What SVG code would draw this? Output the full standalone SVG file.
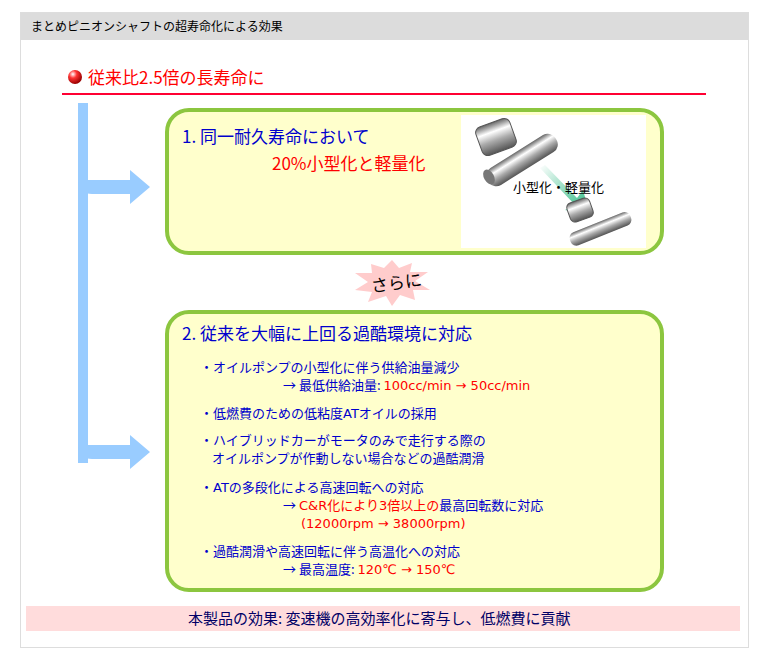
<svg xmlns="http://www.w3.org/2000/svg" width="757" height="660" viewBox="0 0 757 660">
<defs>
<style>
text{font-family:"Noto Sans CJK JP","Noto Sans",sans-serif}
.b{fill:#0000cc;font-size:13px}
.r{fill:#ff0000}
.l{font-family:"DejaVu Sans",sans-serif;font-size:13px}
.box{fill:#ffffcc;stroke:#8cc63f;stroke-width:4}
</style>
<linearGradient id="met" x1="0" y1="0" x2="0" y2="1"><stop offset="0" stop-color="#666"/><stop offset="0.3" stop-color="#fff"/><stop offset="0.6" stop-color="#aaa"/><stop offset="1" stop-color="#555"/></linearGradient>
<linearGradient id="ga" x1="0" y1="0" x2="1" y2="1"><stop offset="0" stop-color="#fff"/><stop offset="1" stop-color="#1fb57a"/></linearGradient>
<radialGradient id="ball" cx="0.35" cy="0.3" r="0.7"><stop offset="0" stop-color="#fff"/><stop offset="0.4" stop-color="#f33"/><stop offset="1" stop-color="#900"/></radialGradient>
</defs>
<rect x="0" y="0" width="757" height="660" fill="#fff"/>
<rect x="20.5" y="12.5" width="728" height="635" fill="#fff" stroke="#ddd"/>
<rect x="21" y="13" width="727" height="27" fill="#dcdcdc"/>
<text x="31" y="31" font-size="12" fill="#000">まとめピニオンシャフトの超寿命化による効果</text>
<g id="title">
<circle cx="75" cy="77" r="7" fill="url(#ball)"/>
<text x="88" y="84" font-size="17" fill="#ff0000">従来比2.5倍の長寿命に</text>
<line x1="62" y1="94" x2="706" y2="94" stroke="#ff0033" stroke-width="2"/>
</g>
<g id="connectors" fill="#99ccff">
<rect x="78" y="103" width="10" height="360"/>
<path d="M78 180 H130 V170 L150 187 L130 204 V194 H92 Q80 194 78 182 Z"/>
<path d="M78 445 H130 V435 L150 452 L130 469 V459 H92 Q80 459 78 447 Z"/>
</g>
<g id="box1">
<rect class="box" x="167" y="110" width="495" height="143" rx="22"/>
<rect x="461" y="115" width="185" height="133" fill="#fff"/>
<text x="182" y="143" font-size="17" fill="#0000cc">1. 同一耐久寿命において</text>
<text x="272" y="170" font-size="17" fill="#ff0000">20%小型化と軽量化</text>
<g id="photo">
<path d="M540 168 L575 205 L565 210 L590 215 L583 190 L577 198 L545 165 Z" fill="url(#ga)"/>
<rect x="478" y="122" width="36" height="30" rx="6" fill="url(#met)" transform="rotate(-20 496 137)" stroke="#555"/>
<rect x="482" y="150" width="80" height="20" rx="9" fill="url(#met)" transform="rotate(-32 522 160)"/>
<ellipse cx="489" cy="177" rx="5" ry="8" fill="#777" transform="rotate(-30 489 177)"/>
<rect x="568" y="200" width="24" height="20" rx="5" fill="url(#met)" transform="rotate(-20 580 210)" stroke="#555"/>
<rect x="568" y="222" width="65" height="14" rx="6" fill="url(#met)" transform="rotate(-22 600 229)"/>
<text x="513" y="192" font-size="13" fill="#000">小型化・軽量化</text>
</g>
</g>
<g id="sarani">
<polygon points="392,260 399,268 412,263 410,272 428,272 415,281 430,290 413,290 415,300 400,295 392,306 386,296 368,302 372,292 355,290 368,282 355,273 372,273 371,264 384,268" fill="#ffcccc"/>
<text x="371" y="290" font-size="17" fill="#000" transform="rotate(-8 390 284)">さらに</text>
</g>
<g id="box2">
<rect class="box" x="167" y="312" width="495" height="278" rx="22"/>
<text x="182" y="340" font-size="17" fill="#0000cc">2. 従来を大幅に上回る過酷環境に対応</text>
<text class="b" x="200" y="372">・オイルポンプの小型化に伴う供給油量減少</text>
<text class="b" x="283" y="390">→ 最低供給油量: <tspan class="r l">100cc/min → 50cc/min</tspan></text>
<text class="b" x="200" y="418">・低燃費のための低粘度<tspan class="l">AT</tspan>オイルの採用</text>
<text class="b" x="200" y="445">・ハイブリッドカーがモータのみで走行する際の</text>
<text class="b" x="212" y="463">オイルポンプが作動しない場合などの過酷潤滑</text>
<text class="b" x="200" y="492">・<tspan class="l">AT</tspan>の多段化による高速回転への対応</text>
<text class="b" x="283" y="510">→ <tspan class="r"><tspan class="l">C&amp;R</tspan>化により<tspan class="l">3</tspan>倍以上の</tspan>最高回転数に対応</text>
<text class="b r l" x="301" y="528">(12000rpm → 38000rpm)</text>
<text class="b" x="200" y="556">・過酷潤滑や高速回転に伴う高温化への対応</text>
<text class="b" x="283" y="574">→ 最高温度: <tspan class="r l">120℃ → 150℃</tspan></text>
</g>
<g id="footer">
<rect x="26" y="606" width="714" height="25" fill="#ffdcdc"/>
<text x="188" y="624" font-size="15" fill="#000066">本製品の効果: 変速機の高効率化に寄与し、低燃費に貢献</text>
</g>
</svg>
